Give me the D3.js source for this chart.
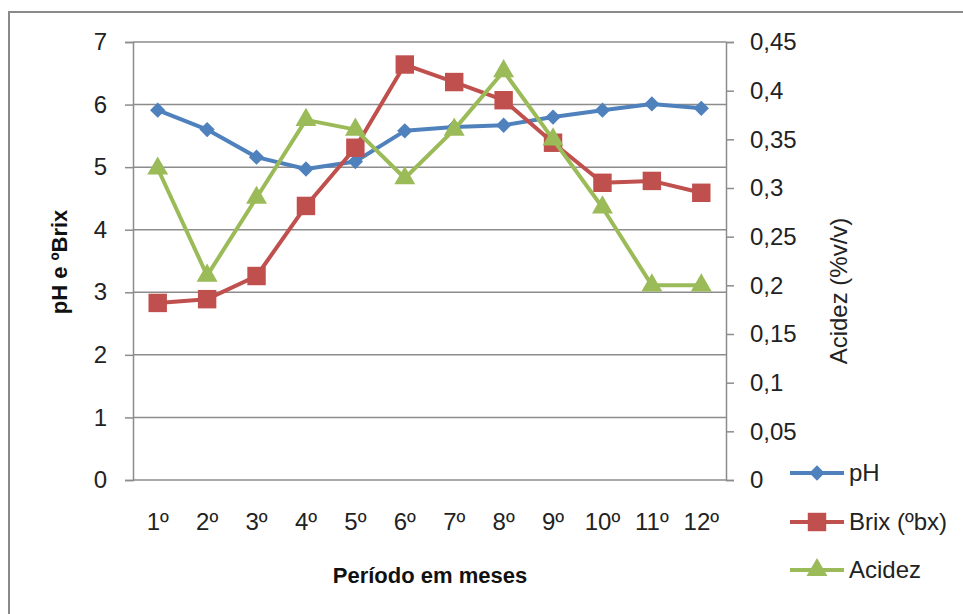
<!DOCTYPE html>
<html>
<head>
<meta charset="utf-8">
<script src="https://cdn.jsdelivr.net/npm/d3@7"></script>
<style>
  html, body { margin: 0; padding: 0; background: #fff; }
  svg { display: block; font-family: "Liberation Sans", Arial, sans-serif; }
</style>
</head>
<body>
<svg id="chart" width="963" height="614"></svg>
<script>
// Monthly measurements
const periods = ["1º", "2º", "3º", "4º", "5º", "6º", "7º", "8º", "9º", "10º", "11º", "12º"];
const phValues = [5.91, 5.60, 5.16, 4.97, 5.09, 5.58, 5.64, 5.67, 5.80, 5.91, 6.01, 5.94];
const brixValues = [2.83, 2.89, 3.26, 4.38, 5.31, 6.64, 6.36, 6.07, 5.39, 4.75, 4.78, 4.59];
const acidezValues = [0.32, 0.21, 0.29, 0.37, 0.36, 0.31, 0.36, 0.42, 0.35, 0.28, 0.20, 0.20];

const leftTicks = [0, 1, 2, 3, 4, 5, 6, 7];
const rightTicks = [0, 0.05, 0.1, 0.15, 0.2, 0.25, 0.3, 0.35, 0.4, 0.45];

const colors = { ph: "#4F81BD", brix: "#C0504D", acidez: "#9BBB59" };

const svg = d3.select("#chart");
const plot = { left: 133, right: 726, top: 42, bottom: 480 };

// Outer chart frame
svg.append("rect")
  .attr("x", 9).attr("y", 12)
  .attr("width", 1000).attr("height", 700)
  .attr("fill", "none").attr("stroke", "#8a8a8a").attr("stroke-width", 2);

const x = d3.scaleBand().domain(periods).range([plot.left, plot.right]);
const yL = d3.scaleLinear().domain([0, 7]).range([plot.bottom, plot.top]);
const yR = d3.scaleLinear().domain([0, 0.45]).range([plot.bottom, plot.top]);

const gridColor = "#8c8c8c";

// Horizontal gridlines on the left scale
svg.append("g").selectAll("line").data(leftTicks).join("line")
  .attr("x1", plot.left).attr("x2", plot.right)
  .attr("y1", d => yL(d)).attr("y2", d => yL(d))
  .attr("stroke", gridColor).attr("stroke-width", 1.5);

// Left axis
const axL = svg.append("g").attr("transform", `translate(${plot.left},0)`)
  .call(d3.axisLeft(yL).tickValues(leftTicks).tickSize(8).tickPadding(18).tickFormat(d3.format("d")));
axL.select(".domain").attr("stroke", gridColor).attr("stroke-width", 1.5);
axL.selectAll(".tick line").attr("stroke", gridColor).attr("stroke-width", 1.5);
axL.selectAll("text").attr("font-size", 24).attr("fill", "#222").attr("font-family", "Liberation Sans, Arial, sans-serif");

// Right axis
const fmtComma = d => (d === 0 ? "0" : d3.format(".2~f")(d).replace(".", ","));
const axR = svg.append("g").attr("transform", `translate(${plot.right},0)`)
  .call(d3.axisRight(yR).tickValues(rightTicks).tickSize(8).tickPadding(16).tickFormat(fmtComma));
axR.select(".domain").attr("stroke", gridColor).attr("stroke-width", 1.5);
axR.selectAll(".tick line").attr("stroke", gridColor).attr("stroke-width", 1.5);
axR.selectAll("text").attr("font-size", 24).attr("fill", "#222").attr("font-family", "Liberation Sans, Arial, sans-serif");

// Bottom axis (category labels, no tick marks)
const axB = svg.append("g").attr("transform", `translate(0,${plot.bottom})`)
  .call(d3.axisBottom(x).tickSize(0).tickPadding(33));
axB.select(".domain").remove();
axB.selectAll("text").attr("font-size", 24).attr("fill", "#222").attr("font-family", "Liberation Sans, Arial, sans-serif");

// Axis titles
svg.append("text")
  .attr("transform", "translate(67,262) rotate(-90)")
  .attr("text-anchor", "middle")
  .attr("font-size", 22).attr("font-weight", "bold").attr("fill", "#111")
  .text("pH e ºBrix");

svg.append("text")
  .attr("transform", "translate(847,291) rotate(-90)")
  .attr("text-anchor", "middle")
  .attr("font-size", 24).attr("fill", "#222")
  .text("Acidez (%v/v)");

svg.append("text")
  .attr("x", 430).attr("y", 583)
  .attr("text-anchor", "middle")
  .attr("font-size", 22).attr("font-weight", "bold").attr("fill", "#111")
  .text("Período em meses");

// Marker shapes
const markers = {
  ph: d3.symbol().type(d3.symbolDiamond2).size(150),
  brix: d3.symbol().type(d3.symbolSquare).size(340),
  acidez: d3.symbol().type(d3.symbolTriangle).size(190)
};

const series = [
  { key: "ph", name: "pH", values: phValues, y: yL },
  { key: "brix", name: "Brix (ºbx)", values: brixValues, y: yL },
  { key: "acidez", name: "Acidez", values: acidezValues, y: yR }
];

const cx = d => x(d) + x.bandwidth() / 2;

series.forEach(s => {
  const pts = periods.map((p, i) => [cx(p), s.y(s.values[i])]);
  svg.append("path")
    .attr("d", d3.line()(pts))
    .attr("fill", "none").attr("stroke", colors[s.key])
    .attr("stroke-width", 4).attr("stroke-linejoin", "round");
  svg.append("g").selectAll("path").data(pts).join("path")
    .attr("transform", d => `translate(${d[0]},${d[1]})`)
    .attr("d", markers[s.key]())
    .attr("fill", colors[s.key]);
});

// Legend
const legendY = [473, 522, 570];
series.forEach((s, i) => {
  const g = svg.append("g").attr("transform", `translate(0,${legendY[i]})`);
  g.append("line").attr("x1", 790).attr("x2", 844).attr("y1", 0).attr("y2", 0)
    .attr("stroke", colors[s.key]).attr("stroke-width", 4);
  g.append("path").attr("transform", "translate(817,0)")
    .attr("d", markers[s.key]()).attr("fill", colors[s.key]);
  g.append("text").attr("x", 849).attr("y", 0).attr("dy", "0.35em")
    .attr("font-size", 24).attr("fill", "#222").text(s.name);
});
</script>
</body>
</html>
